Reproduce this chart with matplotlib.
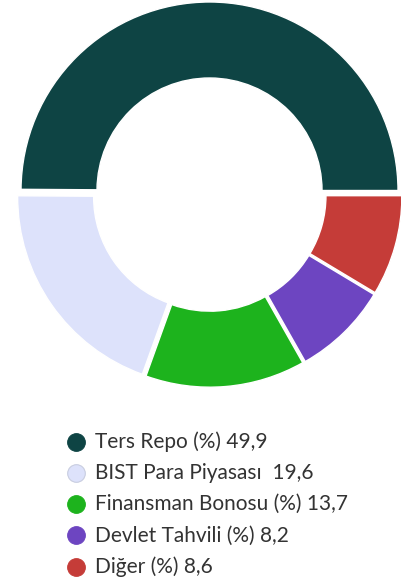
import matplotlib.pyplot as plt

labels = ["Ters Repo (%) 49,9", "BIST Para Piyasası  19,6", "Finansman Bonosu (%) 13,7",
          "Devlet Tahvili (%) 8,2", "Diğer (%) 8,6"]
values = [49.9, 19.6, 13.7, 8.2, 8.6]
colors = ["#0e4444", "#dde2fb", "#1db31d", "#6d45c1", "#c53c38"]

W, H = 401, 584
fig = plt.figure(figsize=(W / 100, H / 100), dpi=100)
ax = fig.add_axes([0, 0, 1, 1])

# donut in pixel units, every slice pulled out by ~4 px
R = 188.5
ax.pie(values, colors=colors, startangle=0, counterclock=False, radius=R,
       center=(209.5, 194.6), explode=[4.1] * len(values),
       wedgeprops=dict(width=R - 112.5, edgecolor="white", linewidth=1))
ax.set_xlim(0, W)
ax.set_ylim(H, 0)
ax.set_aspect("equal")
ax.axis("off")

# legend
for i, (lab, c) in enumerate(zip(labels, colors)):
    y = 441.5 + i * 31.3
    ec = "#c8cde0" if i == 1 else c
    ax.plot(76, y, "o", ms=12.7, color=c, mec=ec, mew=0.8)
    ax.text(95, y, lab, fontsize=15, family="Lato", color="#333333", va="center")

fig.savefig("out.png", dpi=100)
